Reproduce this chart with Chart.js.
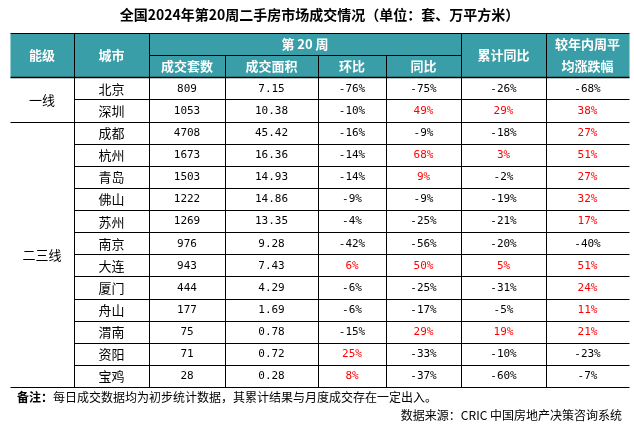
<!DOCTYPE html>
<html lang="zh">
<head>
  <meta charset="UTF-8">
  <title>全国2024年第20周二手房市场成交情况</title>
  <script src="https://cdn.jsdelivr.net/npm/chart.js"></script>
  <style>
    body { margin: 0; background: #ffffff; }
    #wrap { width: 634px; height: 430px; }
  </style>
</head>
<body>
<div id="wrap"><canvas id="tableChart" width="634" height="430"></canvas></div>
<script>
  // ---- data ----
  const tiers = ["一线", "二三线"];
  const tierSizes = [2, 12];
  const cities = ["北京", "深圳", "成都", "杭州", "青岛", "佛山", "苏州", "南京", "大连", "厦门", "舟山", "渭南", "资阳", "宝鸡"];
  const deals = [809, 1053, 4708, 1673, 1503, 1222, 1269, 976, 943, 444, 177, 75, 71, 28];
  const areas = [7.15, 10.38, 45.42, 16.36, 14.93, 14.86, 13.35, 9.28, 7.43, 4.29, 1.69, 0.78, 0.72, 0.28];
  const mom = [-76, -10, -16, -14, -14, -9, -4, -42, 6, -6, -6, -15, 25, 8];
  const yoy = [-75, 49, -9, 68, 9, -9, -25, -56, 50, -25, -17, 29, -33, -37];
  const ytdYoy = [-26, 29, -18, 3, -2, -19, -21, -20, 5, -31, -5, 19, -10, -60];
  const vsYearAvg = [-68, 38, 27, 51, 27, 32, 17, -40, 51, 24, 11, 21, -23, -7];

  const title = "全国2024年第20周二手房市场成交情况（单位：套、万平方米）";
  const noteHead = "备注：";
  const noteText = "每日成交数据均为初步统计数据，其累计结果与月度成交存在一定出入。";
  const source = "数据来源：CRIC 中国房地产决策咨询系统";

  // ---- layout ----
  const colWidths = [64, 75, 76, 93, 68, 75, 85, 83];
  const colEdges = [0];
  colWidths.forEach(w => colEdges.push(colEdges[colEdges.length - 1] + w));
  const colMid = c => (colEdges[c] + colEdges[c + 1]) / 2;

  const TEAL = "#399ea7";
  const RED = "#ff0000";
  const CJK = '"Noto Sans CJK SC", sans-serif';
  const NUM = '"DejaVu Sans Mono", monospace';

  const pct = v => v + "%";
  const pctColor = v => (v > 0 ? RED : "#000000");

  function column(c, texts, colors, font) {
    return {
      data: texts.map((_, i) => ({ x: colMid(c), y: i + 0.5 })),
      texts: texts,
      colors: colors || texts.map(() => "#000000"),
      font: font,
      pointRadius: 0,
      pointHoverRadius: 0
    };
  }

  // tier column: one point per group, centred on its rows
  let start = 0;
  const tierPoints = tierSizes.map(n => { const p = { x: colMid(0), y: start + n / 2 }; start += n; return p; });

  const datasets = [
    { data: tierPoints, texts: tiers, colors: tiers.map(() => "#000"), font: "13px " + CJK, pointRadius: 0, pointHoverRadius: 0 },
    column(1, cities, null, "13px " + CJK),
    column(2, deals.map(String), null, "11px " + NUM),
    column(3, areas.map(v => v.toFixed(2)), null, "11px " + NUM),
    column(4, mom.map(pct), mom.map(pctColor), "11px " + NUM),
    column(5, yoy.map(pct), yoy.map(pctColor), "11px " + NUM),
    column(6, ytdYoy.map(pct), ytdYoy.map(pctColor), "11px " + NUM),
    column(7, vsYearAvg.map(pct), vsYearAvg.map(pctColor), "11px " + NUM)
  ];

  const tablePlugin = {
    id: "table",
    beforeDatasetsDraw(chart) {
      const ctx = chart.ctx;
      const x = chart.scales.x, y = chart.scales.y;
      const X = v => Math.round(x.getPixelForValue(v)) + 0.5;
      const Y = v => Math.round(y.getPixelForValue(v)) + 0.5;
      const left = X(0), right = X(colEdges[colEdges.length - 1]);
      ctx.save();

      // header fill
      ctx.fillStyle = TEAL;
      ctx.fillRect(left, Y(-2), right - left, Y(0) - Y(-2));

      ctx.strokeStyle = "#000";
      ctx.lineWidth = 1;
      const line = (x1, y1, x2, y2) => { ctx.beginPath(); ctx.moveTo(x1, y1); ctx.lineTo(x2, y2); ctx.stroke(); };

      // header borders
      line(left, Y(-2), right, Y(-2));
      line(X(colEdges[2]), Y(-1), X(colEdges[6]), Y(-1));
      [1, 2, 6, 7].forEach(c => line(X(colEdges[c]), Y(-2), X(colEdges[c]), Y(0)));
      [3, 4, 5].forEach(c => line(X(colEdges[c]), Y(-1), X(colEdges[c]), Y(0)));
      ctx.lineWidth = 1.5;
      line(left, Y(0), right, Y(0));
      ctx.lineWidth = 1;

      // body horizontal lines
      let groupEnd = 0;
      const groupEnds = tierSizes.map(n => (groupEnd += n));
      for (let r = 1; r <= cities.length; r++) {
        const from = groupEnds.includes(r) ? left : X(colEdges[1]);
        line(from, Y(r), right, Y(r));
      }
      // body vertical lines
      for (let c = 1; c < colEdges.length - 1; c++) line(X(colEdges[c]), Y(0), X(colEdges[c]), Y(cities.length));

      // header text
      ctx.fillStyle = "#fff";
      ctx.font = "bold 13px " + CJK;
      ctx.textAlign = "center";
      ctx.textBaseline = "middle";
      const hx = c => x.getPixelForValue(colMid(c));
      ctx.fillText("能级", hx(0), y.getPixelForValue(-1));
      ctx.fillText("城市", hx(1), y.getPixelForValue(-1));
      ctx.fillText("第 20 周", (x.getPixelForValue(colEdges[2]) + x.getPixelForValue(colEdges[6])) / 2, y.getPixelForValue(-1.5));
      ["成交套数", "成交面积", "环比", "同比"].forEach((t, i) => ctx.fillText(t, hx(i + 2), y.getPixelForValue(-0.5)));
      ctx.fillText("累计同比", hx(6), y.getPixelForValue(-1));
      ctx.fillText("较年内周平", hx(7), y.getPixelForValue(-1.5));
      ctx.fillText("均涨跌幅", hx(7), y.getPixelForValue(-0.5));
      ctx.restore();
    },
    afterDatasetsDraw(chart) {
      const ctx = chart.ctx;
      ctx.save();
      ctx.textAlign = "center";
      ctx.textBaseline = "middle";
      chart.data.datasets.forEach((ds, i) => {
        ctx.font = ds.font;
        chart.getDatasetMeta(i).data.forEach((el, j) => {
          ctx.fillStyle = ds.colors[j];
          ctx.fillText(ds.texts[j], el.x, el.y + 0.5);
        });
      });

      // title and notes
      const area = chart.chartArea;
      ctx.fillStyle = "#000";
      ctx.font = "bold 14px " + CJK;
      ctx.fillText(title, (area.left + area.right) / 2, 15);
      ctx.textAlign = "left";
      ctx.font = "bold 12px " + CJK;
      ctx.fillText(noteHead, 17, area.bottom + 10);
      const w = ctx.measureText(noteHead).width;
      ctx.font = "12px " + CJK;
      ctx.fillText(noteText, 17 + w, area.bottom + 10);
      ctx.textAlign = "right";
      ctx.fillText(source, 622, area.bottom + 28);
      ctx.restore();
    }
  };

  new Chart(document.getElementById("tableChart"), {
    type: "scatter",
    data: { datasets: datasets },
    options: {
      responsive: false,
      devicePixelRatio: 1,
      animation: false,
      events: [],
      layout: { padding: { left: 10, right: 5, top: 33, bottom: 43 } },
      scales: {
        x: { type: "linear", display: false, min: 0, max: colEdges[colEdges.length - 1] },
        y: { type: "linear", display: false, min: -2, max: cities.length, reverse: true }
      },
      plugins: { legend: { display: false }, tooltip: { enabled: false } }
    },
    plugins: [tablePlugin]
  });
</script>
</body>
</html>
